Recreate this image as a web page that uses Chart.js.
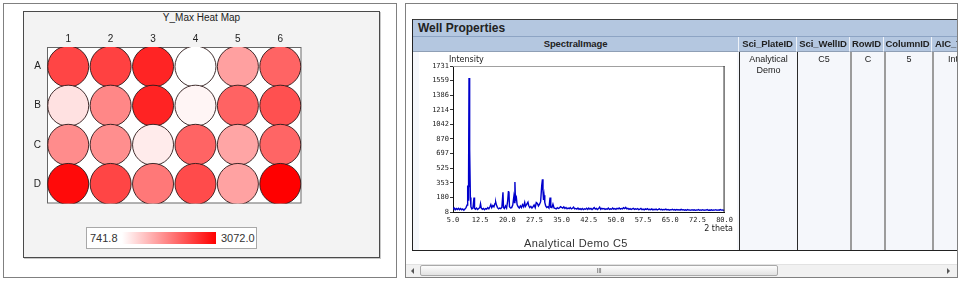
<!DOCTYPE html>
<html>
<head>
<meta charset="utf-8">
<script src="https://cdn.jsdelivr.net/npm/chart.js@4.4.1/dist/chart.umd.min.js"></script>
<style>
  html, body { margin: 0; padding: 0; background: #fff; }
  body { width: 960px; height: 281px; position: relative; overflow: hidden;
         font-family: "Liberation Sans", Arial, sans-serif; color: #222; }
  .abs { position: absolute; box-sizing: border-box; }
  #leftBox { left: 3px; top: 3px; width: 394px; height: 275px; border: 1px solid #808080; }
  #heatPanel { left: 23px; top: 11px; width: 357px; height: 247px; background: #f3f3f3;
               border: 1px solid #4a4a4a; box-shadow: 1px 1px 0 #c8c8c8; }
  #heatTitle { left: 23px; top: 12px; width: 357px; text-align: center; font-size: 10px; line-height: 12px; }
  #heatWrap { left: 23px; top: 25px; width: 300px; height: 200px; }
  #scaleBox { left: 86px; top: 227px; width: 171px; height: 22px; background: #fff; border: 1px solid #a8a8a8; }
  #scaleMin { left: 90px; top: 232px; font-size: 11px; line-height: 12px; color: #333; }
  #scaleBar { left: 122px; top: 232px; width: 94px; height: 12px; }
  #scaleMax { left: 221px; top: 232px; font-size: 11px; line-height: 12px; color: #333; }

  #rightBox { left: 405px; top: 3px; width: 553px; height: 275px; border: 1px solid #808080; }
  #tableClip { left: 0; top: 0; width: 957px; height: 281px; overflow: hidden; }
  #wpBar { left: 412px; top: 19px; width: 546px; height: 18px; background: #b4c7e0;
           border-top: 1px solid #3a3a3a; border-left: 1px solid #222; border-bottom: 1px solid #8da4c4;
           font-weight: bold; font-size: 12px; line-height: 16px; padding-left: 5px; }
  .hcell { top: 37px; height: 15px; background: #b4c7e0; border-right: 1px solid #eef2f8;
           border-bottom: 1px solid #8f9fb5; font-weight: bold; font-size: 9.5px; line-height: 14px;
           text-align: center; white-space: nowrap; overflow: hidden; letter-spacing: -0.1px; }
  .bcell { top: 52px; height: 198px; background: #f5f7fb; font-size: 9px; line-height: 11px;
           text-align: center; padding-top: 2px; white-space: nowrap; overflow: hidden; }
  .lastcol { text-align: left; padding-left: 3px; }
  .lastbody { text-align: left; padding-left: 14px; }
  #tblBottom { left: 412px; top: 250px; width: 546px; height: 1px; background: #222; }
  #tblLeft { left: 412px; top: 19px; width: 1px; height: 232px; background: #222; }
  #specWrap { left: 419px; top: 52px; width: 318px; height: 198px; background: #fff; }
  #specYLabel { left: 449px; top: 55px; font-family: "DejaVu Sans", sans-serif; font-size: 8px; line-height: 9px; }
  #specXLabel { left: 700px; top: 224px; width: 33px; text-align: right; font-family: "DejaVu Sans", sans-serif; font-size: 8px; line-height: 9px; }
  #specTitle { left: 470px; top: 237px; width: 212px; text-align: center; font-size: 11px; line-height: 13px; letter-spacing: 0.4px; color: #333; }

  #scrollTrack { left: 406px; top: 264px; width: 551px; height: 13px; background: #f1f1f1; border-top: 1px solid #e2e2e2; }
  #scrollThumb { left: 420px; top: 265px; width: 358px; height: 11px; border: 1px solid #a9a9a9; border-radius: 2px;
                 background: linear-gradient(#fdfdfd, #e2e2e2); font-size: 7px; line-height: 9px; text-align: center; color: #666; letter-spacing: -0.5px; }
  #arrowL { left: 411px; top: 268px; width: 0; height: 0; border-top: 3px solid transparent; border-bottom: 3px solid transparent; border-right: 3px solid #555; }
  #arrowR { left: 947px; top: 268px; width: 0; height: 0; border-top: 3px solid transparent; border-bottom: 3px solid transparent; border-left: 3px solid #555; }
</style>
</head>
<body>
<div class="abs" id="leftBox"></div>
<div class="abs" id="heatPanel"></div>
<div class="abs" id="heatTitle">Y_Max Heat Map</div>
<div class="abs" id="heatWrap"><canvas id="heatCanvas" width="300" height="200"></canvas></div>
<div class="abs" id="scaleBox"></div>
<div class="abs" id="scaleMin"></div>
<div class="abs" id="scaleBar"></div>
<div class="abs" id="scaleMax"></div>

<div class="abs" id="rightBox"></div>
<div class="abs" id="tableClip">
  <div class="abs" id="wpBar">Well Properties</div>
  <div id="table"></div>
  <div class="abs" id="tblLeft"></div>
  <div class="abs" id="tblBottom"></div>
  <div class="abs" id="specWrap"><canvas id="specCanvas" width="318" height="198"></canvas></div>
  <div class="abs" id="specYLabel">Intensity</div>
  <div class="abs" id="specXLabel">2 theta</div>
  <div class="abs" id="specTitle">Analytical Demo C5</div>
</div>

<div class="abs" id="scrollTrack"></div>
<div class="abs" id="scrollThumb">III</div>
<div class="abs" id="arrowL"></div>
<div class="abs" id="arrowR"></div>

<script>
/* Y_Max heat map + well properties spectrum */
(function () {
  // heat map data (rows A-D, columns 1-6)
  var plateRows = ['A', 'B', 'C', 'D'];
  var plateCols = ['1', '2', '3', '4', '5', '6'];
  var rowA = [2442, 2478, 2746, 741.8, 1611, 2158];
  var rowB = [1016, 1838, 2752, 835, 2163, 2341];
  var rowC = [1793, 1770, 924, 2158, 1564, 2150];
  var rowD = [2978, 2442, 1975, 2386, 1590, 3072.0];
  var scaleMin = 741.8;
  var scaleMax = 3072.0;

  // well properties table
  var headers = ['SpectralImage', 'Sci_PlateID', 'Sci_WellID', 'RowID', 'ColumnID', 'AIC_Type'];
  var cells = ['', 'Analytical<br>Demo', 'C5', 'C', '5', 'Intensity'];

  // spectrum (2 theta vs intensity)
  var xTicks = [5.0, 12.5, 20.0, 27.5, 35.0, 42.5, 50.0, 57.5, 65.0, 72.5, 80.0];
  var yTicks = [8, 180, 353, 525, 697, 870, 1042, 1214, 1386, 1559, 1731];
  var twoTheta = [
    5.0, 5.3, 5.6, 5.9, 6.2, 6.5, 6.8, 7.1, 7.4, 7.7, 8.0, 8.3, 8.6, 8.9, 9.05, 9.15, 9.3, 9.42, 9.55, 9.65,
    9.8, 9.95, 10.2, 10.5, 10.8, 10.95, 11.2, 11.5, 11.8, 12.1, 12.4, 12.6, 12.8, 13.1, 13.4, 13.7, 14.0, 14.3, 14.6, 14.9,
    15.2, 15.45, 15.7, 16.0, 16.3, 16.6, 16.8, 17.0, 17.3, 17.6, 17.9, 18.2, 18.5, 18.8, 18.95, 19.2, 19.5, 19.8, 20.1, 20.3,
    20.45, 20.6, 20.9, 21.2, 21.5, 21.8, 22.0, 22.1, 22.25, 22.5, 22.7, 23.0, 23.3, 23.6, 23.9, 24.2, 24.5, 24.8, 25.0, 25.3,
    25.7, 25.9, 26.2, 26.5, 26.8, 27.1, 27.4, 27.7, 28.0, 28.3, 28.6, 28.9, 29.2, 29.5, 29.7, 29.85, 30.0, 30.15, 30.35, 30.6,
    30.9, 31.2, 31.5, 31.8, 32.0, 32.3, 32.6, 32.9, 33.2, 33.5, 33.8, 34.1, 34.4, 34.7, 35.0, 35.3, 35.6, 35.9, 36.2, 36.5,
    36.8, 37.1, 37.4, 37.7, 38.0, 38.3, 38.6, 38.9, 39.2, 39.5, 39.8, 40.1, 40.4, 40.7, 41.0, 41.3, 41.6, 41.9, 42.2, 42.5,
    42.8, 43.1, 43.4, 43.7, 44.0, 44.3, 44.6, 44.9, 45.2, 45.5, 45.8, 46.1, 46.4, 46.7, 47.0, 47.3, 47.6, 47.9, 48.2, 48.5,
    48.8, 49.1, 49.4, 49.7, 50.0, 50.3, 50.6, 50.9, 51.2, 51.5, 51.8, 52.1, 52.4, 52.7, 53.0, 53.3, 53.6, 53.9, 54.2, 54.5,
    54.8, 55.1, 55.4, 55.7, 56.0, 56.3, 56.6, 56.9, 57.2, 57.5, 57.8, 58.1, 58.4, 58.7, 59.0, 59.3, 59.6, 59.9, 60.2, 60.5,
    60.8, 61.1, 61.4, 61.7, 62.0, 62.3, 62.6, 62.9, 63.2, 63.5, 63.8, 64.1, 64.4, 64.7, 65.0, 65.3, 65.6, 65.9, 66.2, 66.5,
    66.8, 67.1, 67.4, 67.7, 68.0, 68.3, 68.6, 68.9, 69.2, 69.5, 69.8, 70.1, 70.4, 70.7, 71.0, 71.3, 71.6, 71.9, 72.2, 72.5,
    72.8, 73.1, 73.4, 73.7, 74.0, 74.3, 74.6, 74.9, 75.2, 75.5, 75.8, 76.1, 76.4, 76.7, 77.0, 77.3, 77.6, 77.9, 78.2, 78.5,
    78.8, 79.1, 79.4, 79.7, 80.0
  ];
  var intensity = [
    40, 55, 35, 50, 38, 52, 36, 48, 34, 45, 30, 42, 60, 90, 320, 150, 420, 1590, 300, 751,
    180, 70, 45, 55, 178, 50, 40, 55, 38, 50, 60, 105, 55, 40, 50, 35, 48, 42, 60, 45,
    70, 95, 60, 85, 70, 110, 125, 90, 60, 45, 55, 48, 65, 240, 60, 50, 80, 55, 140, 248,
    250, 70, 55, 60, 90, 190, 120, 363, 150, 178, 95, 70, 55, 80, 60, 95, 70, 120, 75, 95,
    125, 85, 60, 75, 55, 70, 90, 60, 120, 110, 80, 100, 130, 320, 395, 250, 150, 205, 120, 80,
    60, 70, 55, 178, 65, 60, 100, 55, 50, 45, 60, 50, 55, 70, 62, 55, 68, 50, 62, 45,
    55, 48, 60, 45, 52, 65, 45, 50, 42, 55, 40, 48, 38, 50, 36, 46, 40, 52, 38, 55,
    42, 50, 38, 48, 60, 42, 50, 38, 48, 65, 40, 52, 45, 50, 38, 45, 40, 55, 38, 45,
    40, 55, 42, 48, 40, 52, 45, 55, 42, 50, 45, 58, 48, 62, 45, 52, 40, 48, 38, 45,
    52, 38, 45, 40, 48, 35, 42, 50, 36, 42, 34, 45, 38, 48, 35, 40, 36, 44, 33, 40,
    35, 42, 33, 38, 45, 34, 40, 32, 38, 35, 42, 32, 38, 30, 36, 33, 40, 31, 36, 30,
    38, 32, 35, 30, 40, 32, 36, 30, 34, 28, 36, 30, 33, 28, 35, 30, 34, 28, 32, 30,
    36, 28, 33, 29, 35, 28, 32, 30, 36, 28, 32, 29, 34, 28, 32, 30, 35, 28, 33, 29,
    36, 30, 33, 28, 30
  ];

  var WELL_RADIUS = 20.5;

  function wellColor(v) {
    var t = (v - scaleMin) / (scaleMax - scaleMin);
    var g = Math.round(255 * (1 - t));
    return 'rgb(255,' + g + ',' + g + ')';
  }

  function zeroPad(s) {
    s.paddingLeft = 0; s.paddingRight = 0; s.paddingTop = 0; s.paddingBottom = 0;
  }

  /* --- heat map --- */
  var plateValues = [rowA, rowB, rowC, rowD];
  var wells = [];
  var wellColors = [];
  plateValues.forEach(function (row, r) {
    row.forEach(function (v, c) {
      wells.push({ x: c + 1, y: r + 1, r: WELL_RADIUS });
      wellColors.push(wellColor(v));
    });
  });

  document.getElementById('scaleMin').textContent = scaleMin.toFixed(1);
  document.getElementById('scaleMax').textContent = scaleMax.toFixed(1);
  document.getElementById('scaleBar').style.background =
    'linear-gradient(to right, ' + wellColor(scaleMin) + ', ' + wellColor(scaleMax) + ')';

  var plateFrame = {
    id: 'plateFrame',
    beforeDatasetsDraw: function (chart) {
      var a = chart.chartArea, c = chart.ctx;
      c.save();
      c.fillStyle = '#fff';
      c.fillRect(a.left, a.top, a.right - a.left, a.bottom - a.top);
      c.strokeStyle = '#666';
      c.lineWidth = 1;
      c.strokeRect(a.left + 0.5, a.top + 0.5, a.right - a.left - 1, a.bottom - a.top - 1);
      c.restore();
    }
  };

  var tickFont = { family: 'Liberation Sans', size: 10 };

  new Chart(document.getElementById('heatCanvas'), {
    type: 'bubble',
    data: {
      datasets: [{
        data: wells,
        backgroundColor: wellColors,
        borderColor: 'rgba(45,25,25,0.9)',
        borderWidth: 1
      }]
    },
    options: {
      responsive: false,
      animation: false,
      layout: { padding: { left: 0, top: 0, right: 14, bottom: 2 } },
      plugins: { legend: { display: false }, tooltip: { enabled: false } },
      scales: {
        x: {
          type: 'linear', position: 'top', min: 0.5, max: 6.5,
          afterBuildTicks: function (s) { s.ticks = plateCols.map(function (c, i) { return { value: i + 1 }; }); },
          ticks: { callback: function (v, i) { return plateCols[i]; }, font: tickFont, color: '#222', padding: 2, maxRotation: 0, autoSkip: false },
          grid: { display: false, drawTicks: false }, border: { display: false },
          afterFit: function (s) { s.height = 22; zeroPad(s); }
        },
        y: {
          type: 'linear', reverse: true, min: 0.5, max: 4.5,
          afterBuildTicks: function (s) { s.ticks = plateRows.map(function (r, i) { return { value: i + 1 }; }); },
          ticks: { callback: function (v, i) { return plateRows[i]; }, font: tickFont, color: '#222', padding: 6, autoSkip: false },
          grid: { display: false, drawTicks: false }, border: { display: false },
          afterFit: function (s) { s.width = 24; zeroPad(s); }
        }
      }
    },
    plugins: [plateFrame]
  });

  /* --- well properties table --- */
  var colEdges = [413, 739, 797, 850, 884, 932, 1004];
  var table = document.getElementById('table');
  headers.forEach(function (h, i) {
    var left = colEdges[i], w = colEdges[i + 1] - colEdges[i];
    var last = i === headers.length - 1;
    var hd = document.createElement('div');
    hd.className = 'abs hcell' + (last ? ' lastcol' : '');
    hd.style.left = left + 'px';
    hd.style.width = w + 'px';
    hd.textContent = h;
    table.appendChild(hd);
    var bd = document.createElement('div');
    bd.className = 'abs bcell' + (last ? ' lastbody' : '');
    bd.style.left = left + 'px';
    bd.style.width = w + 'px';
    if (i > 0) bd.style.borderLeft = i < 3 ? '1px solid #2a2a2a' : '2px solid #9c9c9c';
    bd.innerHTML = cells[i];
    table.appendChild(bd);
  });

  /* --- spectrum --- */
  var plotFrame = {
    id: 'plotFrame',
    afterDatasetsDraw: function (chart) {
      var a = chart.chartArea, c = chart.ctx;
      c.save();
      c.lineWidth = 1;
      c.strokeStyle = '#a0a0a0';
      c.beginPath(); c.moveTo(a.left, a.top + 0.5); c.lineTo(a.right, a.top + 0.5); c.stroke();
      c.strokeStyle = '#222';
      c.beginPath(); c.moveTo(a.right - 0.5, a.top); c.lineTo(a.right - 0.5, a.bottom); c.stroke();
      c.restore();
    }
  };

  var monoFont = { family: 'DejaVu Sans Mono', size: 7 };

  new Chart(document.getElementById('specCanvas'), {
    type: 'line',
    data: {
      datasets: [{
        data: twoTheta.map(function (x, i) { return { x: x, y: intensity[i] }; }),
        borderColor: '#0000cc',
        borderWidth: 1.4,
        pointRadius: 0,
        tension: 0
      }]
    },
    options: {
      responsive: false,
      animation: false,
      layout: { padding: { left: 0, top: 14, right: 12, bottom: 0 } },
      plugins: { legend: { display: false }, tooltip: { enabled: false } },
      scales: {
        x: {
          type: 'linear', min: 5, max: 80,
          afterBuildTicks: function (s) { s.ticks = xTicks.map(function (v) { return { value: v }; }); },
          ticks: { callback: function (v) { return v.toFixed(1); }, font: monoFont, color: '#222', padding: 4, maxRotation: 0, autoSkip: false },
          grid: { drawOnChartArea: false, drawTicks: false },
          border: { color: '#111', width: 1 },
          afterFit: function (s) { s.height = 38; }
        },
        y: {
          type: 'linear', min: 8, max: 1731,
          afterBuildTicks: function (s) { s.ticks = yTicks.map(function (v) { return { value: v }; }); },
          ticks: { callback: function (v) { return String(v); }, font: monoFont, color: '#222', padding: 1, autoSkip: false },
          grid: { drawOnChartArea: false, drawTicks: true, tickLength: 3, color: '#333' },
          border: { color: '#111', width: 1 },
          afterFit: function (s) { s.width = 34; }
        }
      }
    },
    plugins: [plotFrame]
  });
})();
</script>
</body>
</html>
